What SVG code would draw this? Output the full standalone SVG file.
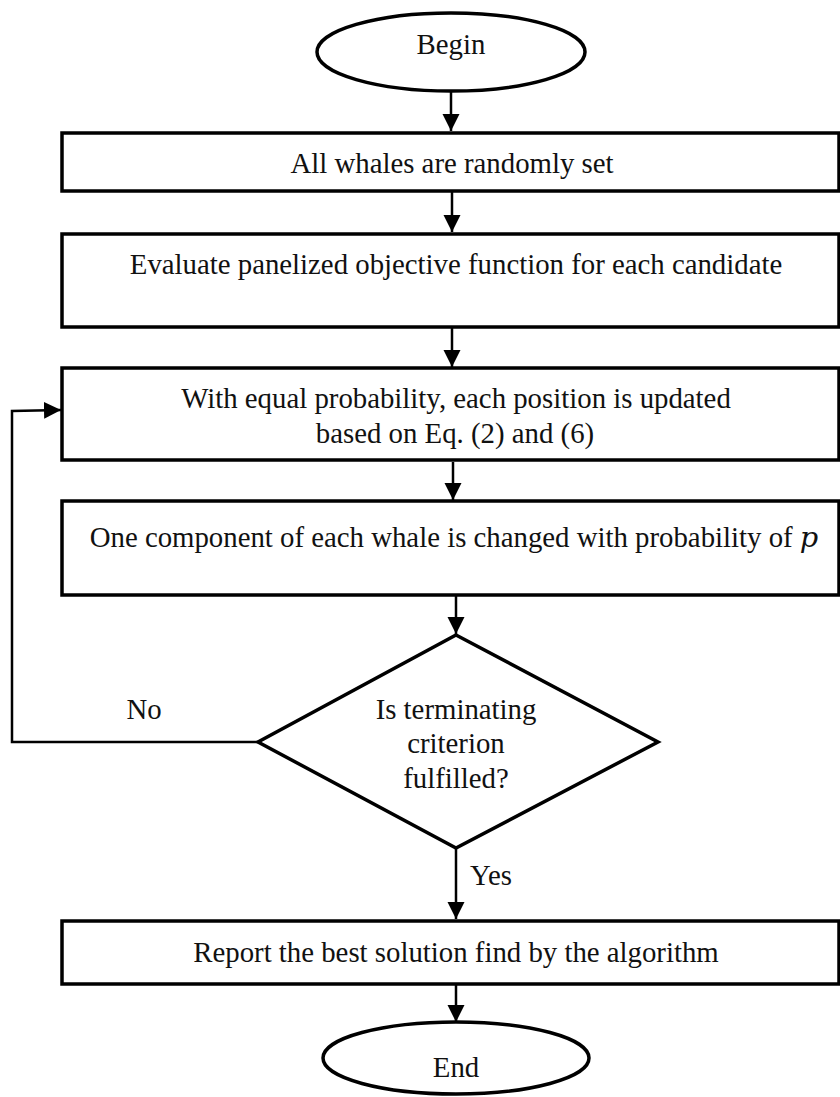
<svg xmlns="http://www.w3.org/2000/svg" width="840" height="1097" viewBox="0 0 840 1097">
<style>
.shape{fill:#fff;stroke:#000;stroke-width:3.5}
.t{font-family:"Liberation Serif","Times New Roman",serif;font-size:28.8px;fill:#111;text-anchor:middle}
.c{fill:none;stroke:#000;stroke-width:2.5}
</style>
<defs>
<marker id="ah" markerUnits="userSpaceOnUse" markerWidth="18" markerHeight="18" refX="17" refY="8.5" orient="auto">
<path d="M0,0 L17,8.5 L0,17 Z" fill="#000"/>
</marker>
</defs>
<rect width="840" height="1097" fill="#fff"/>
<g id="connectors">
<line class="c" x1="451" y1="91" x2="451" y2="131" marker-end="url(#ah)"/>
<line class="c" x1="452" y1="192" x2="452" y2="232" marker-end="url(#ah)"/>
<line class="c" x1="452" y1="328" x2="452" y2="367" marker-end="url(#ah)"/>
<line class="c" x1="453" y1="462" x2="453" y2="500" marker-end="url(#ah)"/>
<line class="c" x1="456" y1="596" x2="456" y2="634" marker-end="url(#ah)"/>
<line class="c" x1="456" y1="848" x2="456" y2="919" marker-end="url(#ah)"/>
<line class="c" x1="456" y1="985" x2="456" y2="1022" marker-end="url(#ah)"/>
<polyline class="c" points="258,742 12,742 12,411 61,410" marker-end="url(#ah)"/>
<text class="t" x="144" y="719">No</text>
<text class="t" x="491" y="885">Yes</text>
</g>
<g id="begin">
<ellipse class="shape" cx="451" cy="52" rx="134" ry="39"/>
<text class="t" x="451" y="54">Begin</text>
</g>
<g id="init">
<rect class="shape" x="62" y="133" width="777" height="58"/>
<text class="t" x="452" y="173">All whales are randomly set</text>
</g>
<g id="evaluate">
<rect class="shape" x="62" y="234" width="777" height="93"/>
<text class="t" x="456" y="274">Evaluate panelized objective function for each candidate</text>
</g>
<g id="update">
<rect class="shape" x="62" y="368" width="777" height="92"/>
<text class="t" x="456" y="408">With equal probability, each position is updated</text>
<text class="t" x="455" y="443">based on Eq. (2) and (6)</text>
</g>
<g id="mutate">
<rect class="shape" x="62" y="501" width="777" height="94"/>
<text class="t" x="454" y="547">One component of each whale is changed with probability of <tspan font-style="italic" font-family="DejaVu Serif, serif">p</tspan></text>
</g>
<g id="decision">
<polygon class="shape" points="456,635 658,742 456,848 258,742"/>
<text class="t" x="456" y="719">Is terminating</text>
<text class="t" x="456" y="753">criterion</text>
<text class="t" x="456" y="788">fulfilled?</text>
</g>
<g id="report">
<rect class="shape" x="62" y="921" width="777" height="63"/>
<text class="t" x="456" y="962">Report the best solution find by the algorithm</text>
</g>
<g id="end">
<ellipse class="shape" cx="456" cy="1058" rx="133" ry="36"/>
<text class="t" x="456" y="1077">End</text>
</g>
</svg>
